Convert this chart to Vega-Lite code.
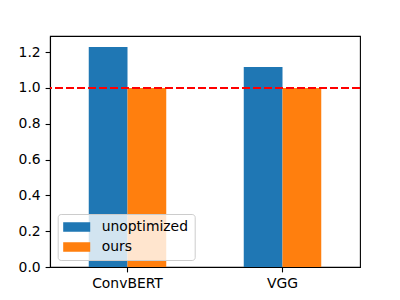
{
  "$schema": "https://vega.github.io/schema/vega-lite/v6.json",
  "width": 310,
  "height": 231,
  "autosize": {"type": "none"},
  "padding": {"left": 50, "top": 36, "right": 40, "bottom": 33},
  "config": {
    "font": "DejaVu Sans",
    "view": {"stroke": "black", "strokeWidth": 1.1},
    "axis": {
      "domainColor": "black", "domainWidth": 1.1,
      "tickColor": "black", "tickWidth": 1.1, "tickSize": 4.9,
      "labelPadding": 4.9, "labelFontSize": 13.9, "labelColor": "black",
      "labelOverlap": false,
      "grid": false, "title": null
    }
  },
  "data": {
    "values": [
      {"model": "ConvBERT", "method": "unoptimized", "value": 1.229},
      {"model": "ConvBERT", "method": "ours", "value": 1.0},
      {"model": "VGG", "method": "unoptimized", "value": 1.117},
      {"model": "VGG", "method": "ours", "value": 1.0}
    ]
  },
  "layer": [
    {
      "mark": {"type": "bar"},
      "encoding": {
        "x": {
          "field": "model", "type": "nominal", "sort": ["ConvBERT", "VGG"],
          "scale": {"paddingInner": 0.5, "paddingOuter": 0.25},
          "axis": {"labelAngle": 0}
        },
        "xOffset": {"field": "method", "type": "nominal", "sort": ["unoptimized", "ours"], "scale": {"paddingInner": 0, "paddingOuter": 0}},
        "y": {
          "field": "value", "type": "quantitative",
          "scale": {"domain": [0, 1.29], "nice": false, "zero": true},
          "axis": {"values": [0, 0.2, 0.4, 0.6, 0.8, 1.0, 1.2], "format": ".1f", "tickCount": 7}
        },
        "color": {
          "field": "method", "type": "nominal",
          "scale": {"domain": ["unoptimized", "ours"], "range": ["#1f77b4", "#ff7f0e"]},
          "legend": {
            "title": null,
            "orient": "none",
            "legendX": 7.7,
            "legendY": 178,
            "direction": "vertical",
            "fillColor": "rgba(255,255,255,0.8)",
            "strokeColor": "#cccccc",
            "cornerRadius": 3,
            "padding": 6,
            "rowPadding": 6,
            "symbolType": "M-1.93,-0.68L1.93,-0.68L1.93,0.68L-1.93,0.68Z",
            "symbolSize": 196,
            "symbolOffset": 6,
            "symbolStrokeWidth": 0,
            "symbolOpacity": 1,
            "labelOffset": 18,
            "labelFontSize": 13.9,
            "labelColor": "black"
          }
        }
      }
    },
    {
      "mark": {"type": "rule", "color": "#ff0000", "strokeWidth": 2, "strokeDash": [7.7, 3.3]},
      "encoding": {
        "y": {
          "datum": 1.0, "type": "quantitative",
          "axis": {"values": [0, 0.2, 0.4, 0.6, 0.8, 1.0, 1.2], "format": ".1f", "tickCount": 7}
        }
      }
    }
  ]
}
